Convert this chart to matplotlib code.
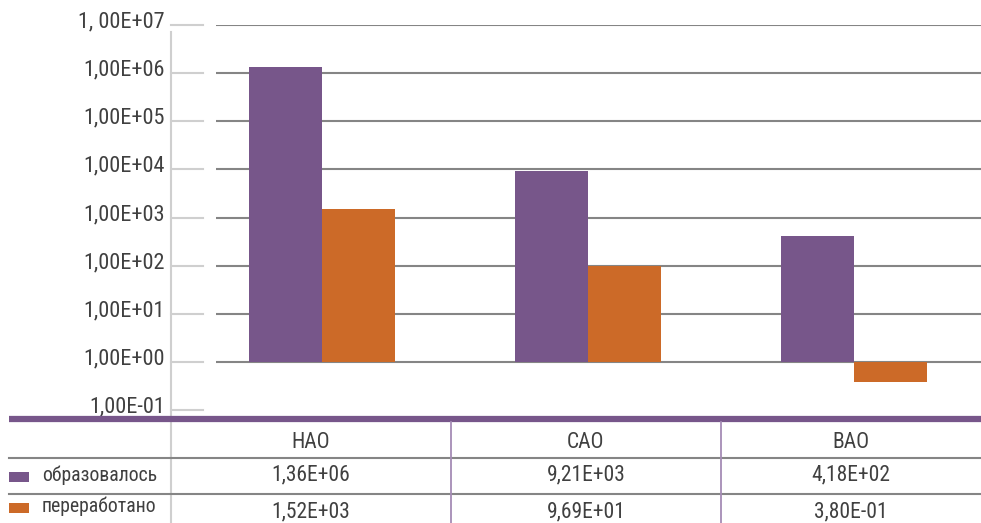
import matplotlib.pyplot as plt
from matplotlib.transforms import ScaledTranslation
import numpy as np

# --- data ---------------------------------------------------------------
categories = ["НАО", "САО", "ВАО"]
series_names = ["образовалось", "переработано"]
formed = [1.36e6, 9.21e3, 4.18e2]
processed = [1.52e3, 9.69e1, 3.80e-1]
formed_labels = ["1,36E+06", "9,21E+03", "4,18E+02"]
processed_labels = ["1,52E+03", "9,69E+01", "3,80E-01"]
tick_values = [1e-1, 1e0, 1e1, 1e2, 1e3, 1e4, 1e5, 1e6, 1e7]
tick_labels = ["1,00E-01", "1,00E+00", "1,00E+01", "1,00E+02", "1,00E+03",
               "1,00E+04", "1,00E+05", "1,00E+06", "1, 00E+07"]

PURPLE = "#77568a"
ORANGE = "#cc6a28"
GRID = "#858585"
LIGHT = "#cfcfcf"
TEXT = "#404040"
FS_TICK = 16
FS = 15.5
FS_LEG = 14.2

plt.rcParams["font.family"] = ["Roboto Condensed", "DejaVu Sans"]

W, H = 981, 523
fig = plt.figure(figsize=(W / 100, H / 100), dpi=100)

# main plot area, pixel box 216..981 x 25..410
ax = fig.add_axes([216 / W, 1 - 410 / H, 765 / W, 385 / H])
ax.set_yscale("log")
ax.set_ylim(0.1, 1e7)
px_per_unit = 266.0
x0 = 322.0
ax.set_xlim((216 - x0) / px_per_unit, (981 - x0) / px_per_unit)
for s in ax.spines.values():
    s.set_visible(False)
ax.set_xticks([])
ax.set_yticks([])
ax.minorticks_off()

# gridlines (not the bottom one)
for v in tick_values[1:]:
    ax.axhline(v, color=GRID, lw=1.5, zorder=1)

# short tick marks left of the gridlines, labels sitting just above them
tr = ax.get_yaxis_transform()
lab_tr = tr + ScaledTranslation(0, 3 / 100, fig.dpi_scale_trans)
for v, lab in zip(tick_values, tick_labels):
    ax.plot([(171 - 216) / 765, (203 - 216) / 765], [v, v], transform=tr,
            color=LIGHT, lw=1.5, clip_on=False)
    ax.text((165 - 216) / 765, v, lab, transform=lab_tr, ha="right", va="center",
            fontsize=FS_TICK, color=TEXT, clip_on=False)

x = np.arange(len(categories))
bw = 73 / px_per_unit
base = 1.0
ax.bar(x, [v - base for v in formed], width=-bw, bottom=base, align="edge",
       color=PURPLE, zorder=2)
ax.bar(x, [v - base for v in processed], width=bw, bottom=base, align="edge",
       color=ORANGE, zorder=2)

# --- overlay for axis line and table (pixel coords) ----------------------
ov = fig.add_axes([0, 0, 1, 1])
ov.set_xlim(0, W)
ov.set_ylim(H, 0)
ov.axis("off")
ov.patch.set_alpha(0)

ov.plot([171, 171], [32, H], color=LIGHT, lw=1.5)
ov.plot([9, W], [419, 419], color=PURPLE, lw=4.5, solid_capstyle="butt")
for yy in (458, 494):
    ov.plot([9, W], [yy, yy], color=GRID, lw=1.5)
for xx in (451, 721):
    ov.plot([xx, xx], [422, H], color="#a58bb5", lw=1.3)

col_centers = [311, 586, 851]
for cx, cat, f, p in zip(col_centers, categories, formed_labels, processed_labels):
    ov.text(cx, 442, cat, ha="center", va="center", fontsize=FS, color=TEXT)
    ov.text(cx, 475, f, ha="center", va="center", fontsize=FS, color=TEXT)
    ov.text(cx, 512, p, ha="center", va="center", fontsize=FS, color=TEXT)

for yy, name, col in zip((477, 508), series_names, (PURPLE, ORANGE)):
    ov.add_patch(plt.Rectangle((9, yy - 5), 20, 10, color=col, lw=0))
    ov.text(42, yy - 2, name, ha="left", va="center", fontsize=FS_LEG, color=TEXT)

fig.savefig("out.png", dpi=100)
